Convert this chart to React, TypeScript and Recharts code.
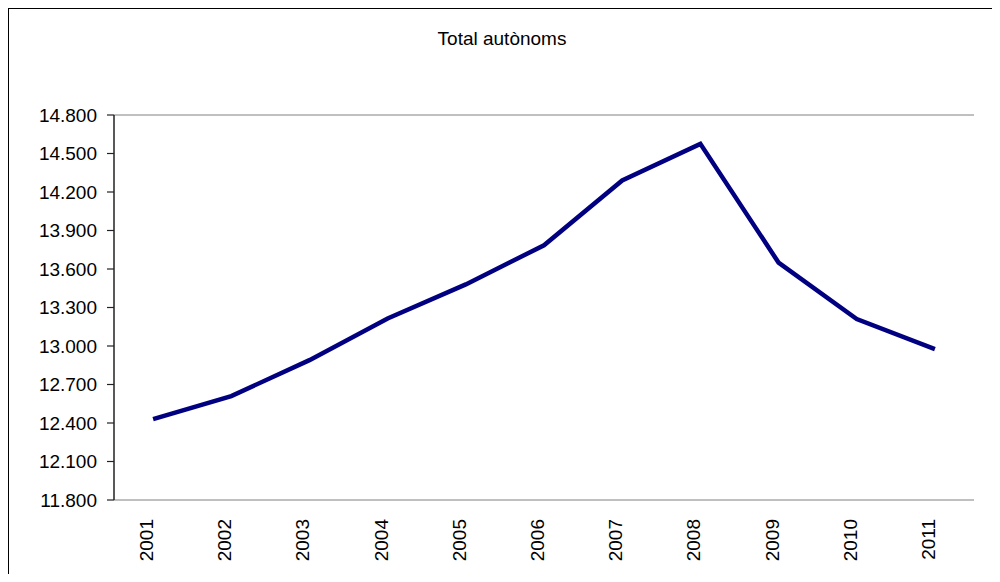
import React from 'react';
import { LineChart, Line, XAxis, YAxis, CartesianGrid } from 'recharts';

const years = ['2001', '2002', '2003', '2004', '2005', '2006', '2007', '2008', '2009', '2010', '2011'];
const totals = [12430, 12610, 12890, 13215, 13480, 13785, 14290, 14575, 13650, 13210, 12975];
const yTicks = [11800, 12100, 12400, 12700, 13000, 13300, 13600, 13900, 14200, 14500, 14800];
const slotTicks = [0, 1, 2, 3, 4, 5, 6, 7, 8, 9, 10, 11];
const title = 'Total autònoms';

const data = years.map((y, i) => ({ year: y, total: totals[i], slot: i + 0.5 }));

const FONT = '"Liberation Sans", Arial, sans-serif';

const fmt = (v: number) => String(v).replace(/\B(?=(\d{3})+(?!\d))/g, '.');

const YearTick = (props: any) => {
  const { x, y, payload } = props;
  return (
    <text
      x={x}
      y={y}
      transform={`rotate(-90, ${x}, ${y})`}
      textAnchor="end"
      fontSize={19}
      fontFamily={FONT}
      fill="#000"
    >
      {payload.value}
    </text>
  );
};

export default function App() {
  return (
    <div style={{ position: 'relative', width: 984, height: 566 }}>
      <div
        style={{
          position: 'absolute',
          left: -1,
          top: -1,
          width: 990,
          height: 570,
          borderLeft: '2px solid #000',
          borderTop: '2px solid #000',
          boxSizing: 'border-box',
        }}
      />
      <div
        style={{
          position: 'absolute',
          left: -6,
          top: 21,
          width: 1000,
          textAlign: 'center',
          fontFamily: FONT,
          fontSize: 19,
          lineHeight: '19px',
          color: '#000',
        }}
      >
        {title}
      </div>
      <div style={{ position: 'absolute', left: -8, top: -8 }}>
        <LineChart width={1000} height={582} data={data} margin={{ top: 115, right: 26, left: 0, bottom: 0 }}>
          <CartesianGrid vertical={false} stroke="#808080" strokeWidth={1} />
          <XAxis
            xAxisId="slots"
            type="number"
            dataKey="slot"
            domain={[0, 11]}
            ticks={slotTicks}
            allowDataOverflow
            height={0}
            tickSize={7}
            tickFormatter={() => ''}
            axisLine={{ stroke: '#222', strokeWidth: 1.5 }}
            tickLine={{ stroke: '#222', strokeWidth: 1.2 }}
          />
          <XAxis
            xAxisId="cat"
            dataKey="year"
            scale="band"
            height={82}
            axisLine={false}
            tickLine={false}
            tickSize={0}
            tickMargin={19}
            interval={0}
            tick={<YearTick />}
          />
          <YAxis
            yAxisId="left"
            type="number"
            domain={[11800, 14800]}
            ticks={yTicks}
            width={114}
            tickSize={7}
            tickMargin={10}
            tickFormatter={fmt}
            interval={0}
            tick={{ fontSize: 19, fontFamily: FONT, fill: '#000' }}
            axisLine={{ stroke: '#222', strokeWidth: 1.5 }}
            tickLine={{ stroke: '#222', strokeWidth: 1.2 }}
          />
          <YAxis
            yAxisId="right"
            orientation="right"
            type="number"
            domain={[11800, 14800]}
            width={0}
            tick={false}
            tickLine={false}
            axisLine={{ stroke: '#808080', strokeWidth: 1.5 }}
          />
          <Line
            xAxisId="cat"
            yAxisId="left"
            type="linear"
            dataKey="total"
            stroke="#000080"
            strokeWidth={4.5}
            dot={false}
            isAnimationActive={false}
          />
        </LineChart>
      </div>
    </div>
  );
}
